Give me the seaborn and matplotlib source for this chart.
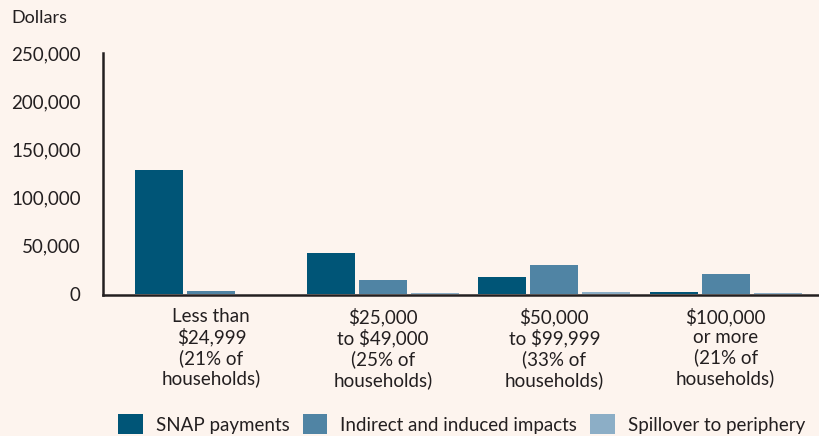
import matplotlib
matplotlib.use("Agg")
import matplotlib.pyplot as plt
import seaborn as sns
import pandas as pd

# income groups and dollar impacts
groups = ["Less than\n$24,999\n(21% of\nhouseholds)",
          "$25,000\nto $49,000\n(25% of\nhouseholds)",
          "$50,000\nto $99,999\n(33% of\nhouseholds)",
          "$100,000\nor more\n(21% of\nhouseholds)"]
series = ["SNAP payments", "Indirect and induced impacts", "Spillover to periphery"]
snap = [128500, 42500, 17800, 2000]
indirect = [3300, 14700, 30500, 21200]
spillover = [300, 1400, 2200, 1000]
colors = ["#005577", "#5084a4", "#8caec6"]

bg = "#fdf4ee"
ink = "#231f20"

rows = []
for i, g in enumerate(groups):
    rows.append([g, series[0], snap[i]])
    rows.append([g, series[1], indirect[i]])
    rows.append([g, series[2], spillover[i]])
df = pd.DataFrame(rows, columns=["group", "series", "value"])

sns.set_style("white")
plt.rcParams["font.family"] = ["Lato", "DejaVu Sans"]

fig = plt.figure(figsize=(8.2, 4.36), dpi=100, facecolor=bg)
ax = fig.add_axes([0.1256, 0.3257 - 0.003, 0.8744, 0.5527 + 0.003], facecolor=bg)

sns.barplot(data=df, x="group", y="value", hue="series", palette=colors,
            width=0.91, gap=0.08, saturation=1, linewidth=0, ax=ax, legend=True)

ax.set_xlim(-0.632, 3.55)
# small negative floor so the axis line sits just under the bars
ax.set_ylim(-1400, 250000)
ax.set_yticks([0, 50000, 100000, 150000, 200000, 250000])
ax.set_yticklabels([f"{v:,}" for v in ax.get_yticks().astype(int)], fontsize=13.5, color=ink)
ax.set_xlabel("")
ax.set_ylabel("")
ax.tick_params(axis="y", direction="in", length=6, width=1.5, color=ink, pad=16)
ax.tick_params(axis="x", length=0, pad=9, labelsize=13.5, labelcolor=ink)
for lbl in ax.get_xticklabels():
    lbl.set_linespacing(1.18)

for s in ["top", "right"]:
    ax.spines[s].set_visible(False)
ax.spines["left"].set_bounds(-1400, 250000)
for s in ["left", "bottom"]:
    ax.spines[s].set_color(ink)
    ax.spines[s].set_linewidth(1.8)

handles, labels = ax.get_legend_handles_labels()
ax.legend_.remove()
fig.legend(handles, labels, loc="center", bbox_to_anchor=(0.563, 0.027), ncol=3,
           frameon=False, fontsize=13.5, handlelength=1.3, handleheight=1.3,
           columnspacing=0.7, handletextpad=0.7, labelcolor=ink)

fig.text(0.014, 0.958, "Dollars", fontsize=13, color=ink, va="center", ha="left")

fig.savefig("out.png", dpi=100, facecolor=bg)
